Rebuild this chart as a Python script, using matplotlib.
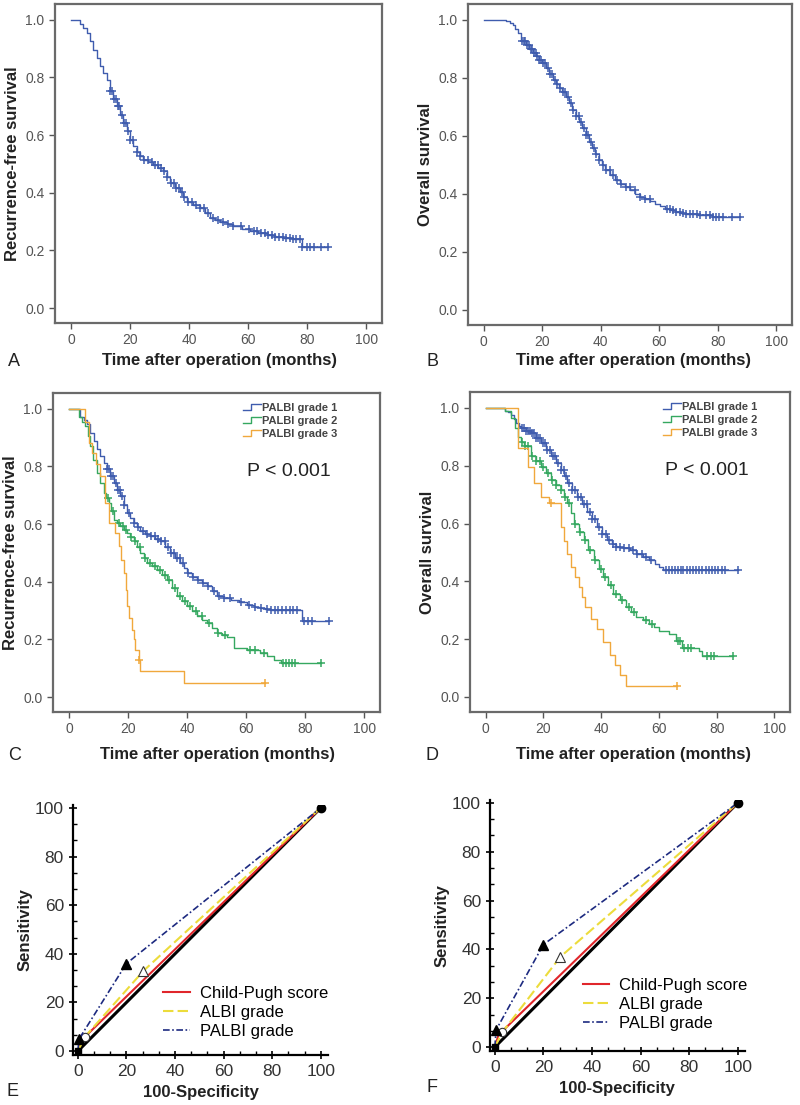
import numpy as np
import matplotlib
matplotlib.use("Agg")
import matplotlib.pyplot as plt
from matplotlib.lines import Line2D
from matplotlib.legend_handler import HandlerBase
from matplotlib.ticker import AutoMinorLocator

plt.rcParams['font.family'] = ['Liberation Sans', 'DejaVu Sans']

# ---- Panel A: recurrence-free survival, whole cohort ----
a_t = [0, 3, 4.2, 5.3, 6.4, 7.6, 8.7, 9.8, 11.0, 12.1, 13.2, 14.4, 15.5, 16.6, 17.7, 18.9, 20.0, 21.1,
       22.3, 23.4, 24.5, 26.2, 27.9, 29.6, 31.3, 32.4, 33.6, 35.2, 36.9, 38.0, 39.2, 41.5, 43.7, 45.4,
       47.1, 48.8, 50.5, 52.8, 55.0, 57.9, 60.7, 63.5, 66.3, 69.2, 72.0, 74.8, 77.6, 78.2]
a_s = [1.0, 0.985, 0.97, 0.955, 0.926, 0.897, 0.868, 0.84, 0.815, 0.79, 0.752, 0.726, 0.70, 0.671, 0.642,
       0.613, 0.584, 0.563, 0.543, 0.528, 0.514, 0.505, 0.497, 0.486, 0.474, 0.453, 0.433, 0.418, 0.404,
       0.386, 0.369, 0.357, 0.346, 0.329, 0.312, 0.306, 0.30, 0.291, 0.283, 0.274, 0.266, 0.260, 0.254,
       0.248, 0.243, 0.241, 0.239, 0.213]
a_end = 87.2
a_cens = [13.2, 13.8, 14.5, 15.1, 15.9, 16.4, 17.2, 17.9, 18.6, 19.3, 20.1, 21.0, 22.4, 23.5, 24.8, 26.0,
          27.3, 28.4, 29.5, 30.6, 31.5, 32.4, 33.8, 34.9, 35.7, 36.6, 37.5, 38.4, 39.6, 41.0, 42.3, 43.8,
          45.1, 46.5, 48.0, 49.7, 51.4, 53.2, 55.0, 57.5, 60.2, 62.0, 63.1, 64.3, 65.6, 66.8, 68.0, 69.3,
          70.5, 71.8, 72.9, 74.1, 75.2, 76.4, 77.5, 78.3, 80.1, 81.0, 82.2, 84.8, 87.2]

# ---- Panel B: overall survival, whole cohort ----
b_t = [0, 7.6, 8.8, 9.9, 10.8, 11.6, 12.7, 14.4, 15.5, 16.7, 17.8, 18.9, 20.0, 21.2, 22.3, 23.5, 24.6,
       25.7, 26.9, 28.0, 29.1, 30.3, 31.4, 32.5, 33.7, 34.8, 35.9, 37.1, 38.2, 39.3, 40.5, 41.6, 43.3,
       45.0, 46.7, 48.4, 50.1, 51.8, 53.5, 55.2, 56.9, 58.6, 60.3, 62.0, 63.7, 65.4, 67.1, 68.8, 73.4, 77.9]
b_s = [1.0, 0.995, 0.99, 0.984, 0.97, 0.955, 0.926, 0.915, 0.90, 0.886, 0.875, 0.863, 0.85, 0.834, 0.815,
       0.793, 0.779, 0.764, 0.75, 0.736, 0.713, 0.69, 0.67, 0.649, 0.626, 0.603, 0.58, 0.557, 0.536, 0.516,
       0.499, 0.482, 0.465, 0.447, 0.435, 0.424, 0.412, 0.40, 0.391, 0.383, 0.374, 0.366, 0.357, 0.349,
       0.343, 0.337, 0.334, 0.331, 0.329, 0.32]
b_end = 87.5
b_cens = [13.0, 13.6, 14.2, 14.9, 15.4, 16.0, 16.6, 17.1, 17.7, 18.3, 18.9, 19.6, 20.3, 21.0, 21.8, 22.6,
          23.4, 24.3, 25.2, 26.1, 27.0, 27.9, 28.8, 29.7, 30.6, 31.5, 32.4, 33.3, 34.2, 35.0, 35.8, 36.7,
          37.6, 38.5, 39.5, 40.6, 41.8, 43.0, 44.3, 45.6, 47.0, 48.5, 50.0, 51.7, 53.5, 55.3, 56.8, 62.5,
          63.6, 64.7, 65.8, 67.0, 68.2, 69.3, 70.5, 71.6, 72.8, 74.0, 76.0, 77.2, 78.3, 79.4, 80.5, 81.7,
          85.0, 87.5]

# ---- Panel C: RFS by PALBI grade ----
c1_t = [0, 3.8, 5.0, 6.1, 7.3, 8.4, 9.5, 10.6, 11.8, 12.9, 14.0, 15.2, 16.3, 17.4, 18.6, 19.7, 20.8,
        21.9, 23.0, 24.2, 25.9, 27.6, 29.3, 31.0, 32.7, 34.4, 36.1, 37.8, 38.9, 40.0, 41.7, 43.4, 45.1,
        46.8, 48.5, 50.2, 52.5, 54.8, 57.6, 60.4, 62.7, 64.9, 66.6, 68.3, 79.0]
c1_s = [1.0, 0.973, 0.96, 0.946, 0.917, 0.888, 0.862, 0.836, 0.813, 0.79, 0.767, 0.743, 0.72, 0.697,
        0.668, 0.639, 0.621, 0.604, 0.59, 0.575, 0.566, 0.558, 0.549, 0.54, 0.52, 0.50, 0.483, 0.465,
        0.447, 0.43, 0.418, 0.407, 0.395, 0.384, 0.367, 0.35, 0.344, 0.338, 0.329, 0.32, 0.314, 0.309,
        0.306, 0.303, 0.263]
c1_end = 88.1
c1_cens = [13.0, 13.7, 14.4, 15.0, 15.8, 16.5, 17.3, 18.0, 18.8, 20.5, 22.0, 23.5, 25.0, 26.5, 27.8,
           29.0, 30.2, 31.3, 32.5, 33.6, 34.6, 35.6, 36.6, 37.5, 38.5, 40.5, 42.0, 43.8, 45.5, 47.2, 49.0,
           50.8, 52.7, 54.6, 58.2, 61.0, 63.2, 65.0, 67.0, 68.5, 69.7, 71.0, 72.3, 73.6, 74.8, 76.0, 77.3,
           79.8, 81.0, 82.5, 88.1]

c2_t = [0, 3.3, 4.4, 5.5, 6.3, 7.2, 8.3, 9.5, 10.6, 11.8, 12.6, 13.5, 14.3, 15.2, 16.3, 17.4, 18.6, 19.7,
        20.8, 21.9, 23.0, 24.2, 25.3, 26.5, 28.2, 29.9, 31.6, 33.3, 35.0, 36.7, 38.3, 40.0, 41.7, 43.4,
        45.1, 46.8, 48.5, 50.2, 51.9, 53.6, 55.9, 60.4, 64.9, 67.2, 69.5, 71.7]
c2_s = [1.0, 0.97, 0.955, 0.94, 0.905, 0.87, 0.824, 0.778, 0.743, 0.708, 0.691, 0.674, 0.645, 0.616,
        0.605, 0.593, 0.581, 0.569, 0.555, 0.54, 0.52, 0.50, 0.483, 0.465, 0.453, 0.442, 0.425, 0.407,
        0.378, 0.35, 0.333, 0.315, 0.298, 0.28, 0.268, 0.257, 0.24, 0.222, 0.216, 0.21, 0.17, 0.162,
        0.153, 0.141, 0.13, 0.118]
c2_end = 85.3
c2_cens = [13.4, 15.0, 16.8, 18.2, 19.5, 21.0, 22.5, 24.0, 25.8, 27.5, 29.0, 30.8, 32.5, 34.0, 35.8,
           37.5, 39.2, 41.0, 43.0, 45.0, 47.5, 50.5, 53.0, 61.5, 63.0, 66.0, 72.5, 73.5, 74.5, 75.5, 76.5,
           85.3]

c3_t = [0, 5.5, 6.7, 7.8, 9.2, 10.6, 12.3, 13.5, 15.7, 16.9, 17.8, 18.6, 19.2, 19.7, 20.5, 21.4, 22.0,
        22.5, 23.6, 24.2, 38.9]
c3_s = [1.0, 0.955, 0.882, 0.847, 0.81, 0.766, 0.674, 0.604, 0.569, 0.523, 0.477, 0.43, 0.372, 0.315,
        0.275, 0.234, 0.2, 0.164, 0.13, 0.089, 0.049]
c3_end = 66.6
c3_cens = [23.8, 66.6]

# ---- Panel D: OS by PALBI grade ----
d1_t = [0, 6.6, 7.8, 8.9, 9.8, 10.6, 11.5, 12.3, 14.0, 15.7, 17.4, 19.1, 20.8, 22.6, 24.3, 26.0, 27.1,
        28.2, 29.9, 31.7, 33.4, 35.1, 36.8, 38.5, 40.2, 41.9, 43.6, 45.3, 47.6, 49.9, 52.2, 54.4, 56.6,
        58.8, 60.1, 61.3]
d1_s = [1.0, 0.99, 0.985, 0.977, 0.962, 0.948, 0.939, 0.93, 0.921, 0.913, 0.896, 0.878, 0.855, 0.832,
        0.809, 0.786, 0.763, 0.74, 0.716, 0.693, 0.667, 0.641, 0.615, 0.589, 0.565, 0.542, 0.53, 0.519,
        0.514, 0.508, 0.496, 0.485, 0.473, 0.461, 0.45, 0.438]
d1_end = 87.5
d1_cens = [12.6, 13.3, 14.0, 14.7, 15.4, 16.1, 16.8, 17.5, 18.2, 19.0, 19.8, 20.6, 21.4, 22.3, 23.2,
           24.1, 25.0, 26.0, 27.0, 28.0, 29.0, 30.0, 31.0, 32.0, 33.0, 34.0, 35.0, 36.0, 37.0, 38.0, 39.2,
           40.4, 41.6, 42.8, 44.0, 45.3, 46.6, 48.0, 49.5, 51.0, 52.5, 54.0, 55.6, 57.2, 62.5, 63.5, 64.5,
           65.5, 66.5, 67.5, 68.5, 69.6, 70.7, 71.8, 72.9, 74.0, 75.1, 76.2, 77.3, 78.4, 79.5, 80.6, 81.7,
           82.8, 87.5]

d2_t = [0, 6.6, 8.9, 10.1, 11.2, 12.3, 13.4, 15.7, 17.4, 19.1, 20.8, 22.6, 24.3, 26.0, 27.1, 28.2, 29.4,
        30.5, 32.2, 33.9, 35.6, 37.4, 39.1, 40.8, 42.5, 44.2, 46.5, 48.7, 50.5, 52.2, 54.5, 56.7, 58.4,
        60.1, 63.6, 65.8, 68.1, 73.8, 75.0]
d2_s = [1.0, 0.99, 0.965, 0.932, 0.90, 0.883, 0.867, 0.832, 0.815, 0.797, 0.774, 0.751, 0.733, 0.716,
        0.693, 0.67, 0.635, 0.60, 0.571, 0.542, 0.507, 0.473, 0.444, 0.415, 0.386, 0.357, 0.334, 0.311,
        0.293, 0.276, 0.265, 0.253, 0.241, 0.229, 0.218, 0.195, 0.171, 0.16, 0.143]
d2_end = 85.8
d2_cens = [12.5, 13.5, 14.8, 16.2, 17.5, 18.8, 20.0, 21.5, 23.0, 24.5, 26.0, 27.5, 29.0, 31.0, 32.8,
           34.5, 36.2, 38.0, 39.8, 41.5, 43.3, 45.2, 47.2, 49.5, 51.5, 55.5, 57.5, 66.5, 67.3, 68.8, 70.0,
           71.0, 76.5, 78.0, 79.0, 85.8]

d3_t = [0, 11.2, 14.6, 16.9, 19.1, 22.0, 26.0, 27.1, 28.2, 29.4, 30.8, 32.2, 33.4, 34.5, 36.5, 38.5,
        40.7, 43.0, 44.8, 46.5, 48.7]
d3_s = [1.0, 0.861, 0.797, 0.74, 0.693, 0.67, 0.589, 0.54, 0.496, 0.45, 0.415, 0.38, 0.345, 0.31, 0.27,
        0.234, 0.19, 0.145, 0.11, 0.076, 0.038]
d3_end = 66.4
d3_cens = [22.5, 66.4]

grade_labels = ["PALBI grade 1", "PALBI grade 2", "PALBI grade 3"]

# ---- Panels E, F: ROC curves ----
roc_labels = ["Child-Pugh score", "ALBI grade", "PALBI grade"]
e_cp_x, e_cp_y = [0, 1.5, 100], [0, 4.5, 100]
e_albi_x, e_albi_y = [0, 3, 27, 100], [0, 6, 33, 100]
e_palbi_x, e_palbi_y = [0, 0.5, 20, 100], [0, 5, 36, 100]
f_cp_x, f_cp_y = [0, 1.5, 100], [0, 5, 100]
f_albi_x, f_albi_y = [0, 3, 27, 100], [0, 6, 37, 100]
f_palbi_x, f_palbi_y = [0, 0.5, 20, 100], [0, 7, 42, 100]
diag = [0, 100]

BLUE = "#3f5cae"
GREEN = "#35a860"
ORANGE = "#f0a83c"
FRAME = "#6a6a6a"
TICKC = "#555555"


class StepHandler(HandlerBase):
    # little step shape like the SPSS legend
    def create_artists(self, legend, orig_handle, xdescent, ydescent, width, height, fontsize, trans):
        x = [0, 0.45 * width, 0.45 * width, width]
        y = [0.1 * height, 0.1 * height, 0.9 * height, 0.9 * height]
        ln = Line2D(x, y, color=orig_handle.get_color(), lw=1.0, transform=trans)
        return [ln]


def km(ax, t, s, t_end, cens, color):
    xs = list(t) + [t_end]
    ys = list(s) + [s[-1]]
    ax.plot(xs, ys, drawstyle="steps-post", color=color, lw=1.0)
    # censored cases sit on the step value at their time
    idx = np.searchsorted(np.array(t), np.array(cens), side="right") - 1
    cy = np.array(s)[idx]
    ax.plot(cens, cy, linestyle="none", marker="+", ms=6, mew=1.1, color=color)
    return Line2D([], [], color=color)


def km_axes(ax, ylabel):
    ax.set_xlim(-5.4, 105.4)
    ax.set_ylim(-0.052, 1.055)
    ax.set_xticks([0, 20, 40, 60, 80, 100])
    ax.set_yticks([0.0, 0.2, 0.4, 0.6, 0.8, 1.0])
    ax.set_yticklabels(["0.0", "0.2", "0.4", "0.6", "0.8", "1.0"])
    for sp in ax.spines.values():
        sp.set_color(FRAME)
        sp.set_linewidth(1.6)
    ax.tick_params(direction="out", length=4, width=1, color=TICKC, labelcolor=TICKC, labelsize=10)
    ax.set_ylabel(ylabel, fontsize=12, fontweight="bold", color="#222222", labelpad=4)


fig = plt.figure(figsize=(8, 11.05), dpi=100)
W, H = 800.0, 1105.0


def add_axes_px(left, top, right, bottom):
    return fig.add_axes([left / W, 1 - bottom / H, (right - left) / W, (bottom - top) / H])


axA = add_axes_px(55, 4, 382, 323)
km(axA, a_t, a_s, a_end, a_cens, BLUE)
km_axes(axA, "Recurrence-free survival")

axB = add_axes_px(468, 4, 792, 325)
km(axB, b_t, b_s, b_end, b_cens, BLUE)
km_axes(axB, "Overall survival")

axC = add_axes_px(53, 393, 380, 712)
h1 = km(axC, c1_t, c1_s, c1_end, c1_cens, BLUE)
h2 = km(axC, c2_t, c2_s, c2_end, c2_cens, GREEN)
h3 = km(axC, c3_t, c3_s, c3_end, c3_cens, ORANGE)
km_axes(axC, "Recurrence-free survival")

axD = add_axes_px(470, 392, 790, 712)
g1 = km(axD, d1_t, d1_s, d1_end, d1_cens, BLUE)
g2 = km(axD, d2_t, d2_s, d2_end, d2_cens, GREEN)
g3 = km(axD, d3_t, d3_s, d3_end, d3_cens, ORANGE)
km_axes(axD, "Overall survival")

for ax, hs, lx, px in [(axC, [h1, h2, h3], 0.9, 0.72), (axD, [g1, g2, g3], 0.93, 0.74)]:
    leg = ax.legend(hs, grade_labels, loc="upper right", bbox_to_anchor=(lx, 1.0), frameon=False,
                    handler_map={Line2D: StepHandler()}, handlelength=1.6, handletextpad=0.1,
                    labelspacing=0.25, prop={"size": 8, "weight": "bold"})
    for tx in leg.get_texts():
        tx.set_color("#444444")
    ax.text(px, 0.755, "P < 0.001", transform=ax.transAxes, ha="center", va="center", fontsize=14,
            color="#222222")


def roc_axes(ax):
    ax.set_xlim(-2, 103)
    ax.set_ylim(-1.6, 101.2)
    ax.spines["top"].set_visible(False)
    ax.spines["right"].set_visible(False)
    ax.spines["left"].set_linewidth(1.6)
    ax.spines["bottom"].set_linewidth(1.6)
    ax.set_xticks([0, 20, 40, 60, 80, 100])
    ax.set_yticks([0, 20, 40, 60, 80, 100])
    ax.xaxis.set_minor_locator(AutoMinorLocator(3))
    ax.yaxis.set_minor_locator(AutoMinorLocator(3))
    ax.tick_params(which="major", direction="inout", length=6, width=1.2, labelsize=12.5, labelcolor="#333333")
    ax.tick_params(which="minor", direction="in", length=3, width=1)
    ax.set_ylabel("Sensitivity", fontsize=12, fontweight="bold", color="#222222", labelpad=2)


def roc(ax, cpx, cpy, alx, aly, pax, pay, leg_x, leg_y):
    ax.plot(diag, diag, color="black", lw=2.2, zorder=2)
    l1, = ax.plot(cpx, cpy, color="#e0262b", lw=1.5, zorder=3)
    l2, = ax.plot(alx, aly, color="#ecdc3c", lw=1.5, ls=(0, (5, 2)), zorder=3)
    ax.plot(alx[1:2], aly[1:2], marker="o", ms=6, mfc="white", mec="#333333", mew=0.8, ls="none", zorder=4)
    ax.plot(alx[2:3], aly[2:3], marker="^", ms=7, mfc="white", mec="#333333", mew=0.8, ls="none", zorder=4)
    l3, = ax.plot(pax, pay, color="#1d2a80", lw=1.2, ls=(0, (4, 1.5, 1, 1.5)), zorder=4)
    ax.plot(pax[1:3], pay[1:3], marker="^", ms=7, color="black", ls="none", zorder=5)
    ax.plot(pax[-1:], pay[-1:], marker="o", ms=6, color="black", ls="none", zorder=5)
    ax.plot(pax[:1], pay[:1], marker="s", ms=5, color="black", ls="none", zorder=5)
    ax.legend([l1, l2, l3], roc_labels, loc="lower right", bbox_to_anchor=(leg_x, leg_y), frameon=False,
              borderpad=0, borderaxespad=0, handlelength=1.6, handletextpad=0.6, labelspacing=0.25,
              fontsize=12)


axE = add_axes_px(73, 805, 328, 1055)
roc(axE, e_cp_x, e_cp_y, e_albi_x, e_albi_y, e_palbi_x, e_palbi_y, 1.0, 0.064)
roc_axes(axE)

axF = add_axes_px(490, 800, 745, 1051)
roc(axF, f_cp_x, f_cp_y, f_albi_x, f_albi_y, f_palbi_x, f_palbi_y, 1.01, 0.08)
roc_axes(axF)

# x labels and panel letters
xl = dict(fontsize=12, fontweight="bold", color="#222222", ha="center", va="center")
fig.text(219 / W, 1 - 361 / H, "Time after operation (months)", **xl)
fig.text(633 / W, 1 - 361 / H, "Time after operation (months)", **xl)
fig.text(217 / W, 1 - 755 / H, "Time after operation (months)", **xl)
fig.text(633 / W, 1 - 755 / H, "Time after operation (months)", **xl)
fig.text(201 / W, 1 - 1092 / H, "100-Specificity", **xl)
fig.text(617 / W, 1 - 1088 / H, "100-Specificity", **xl)

lt = dict(fontsize=13, color="#222222", ha="center", va="center")
fig.text(14 / W, 1 - 361 / H, "A", **lt)
fig.text(432 / W, 1 - 361 / H, "B", **lt)
fig.text(15 / W, 1 - 755 / H, "C", **lt)
fig.text(432 / W, 1 - 755 / H, "D", **lt)
fig.text(13 / W, 1 - 1092 / H, "E", **lt)
fig.text(432 / W, 1 - 1088 / H, "F", **lt)

fig.savefig("out.png", dpi=100)
